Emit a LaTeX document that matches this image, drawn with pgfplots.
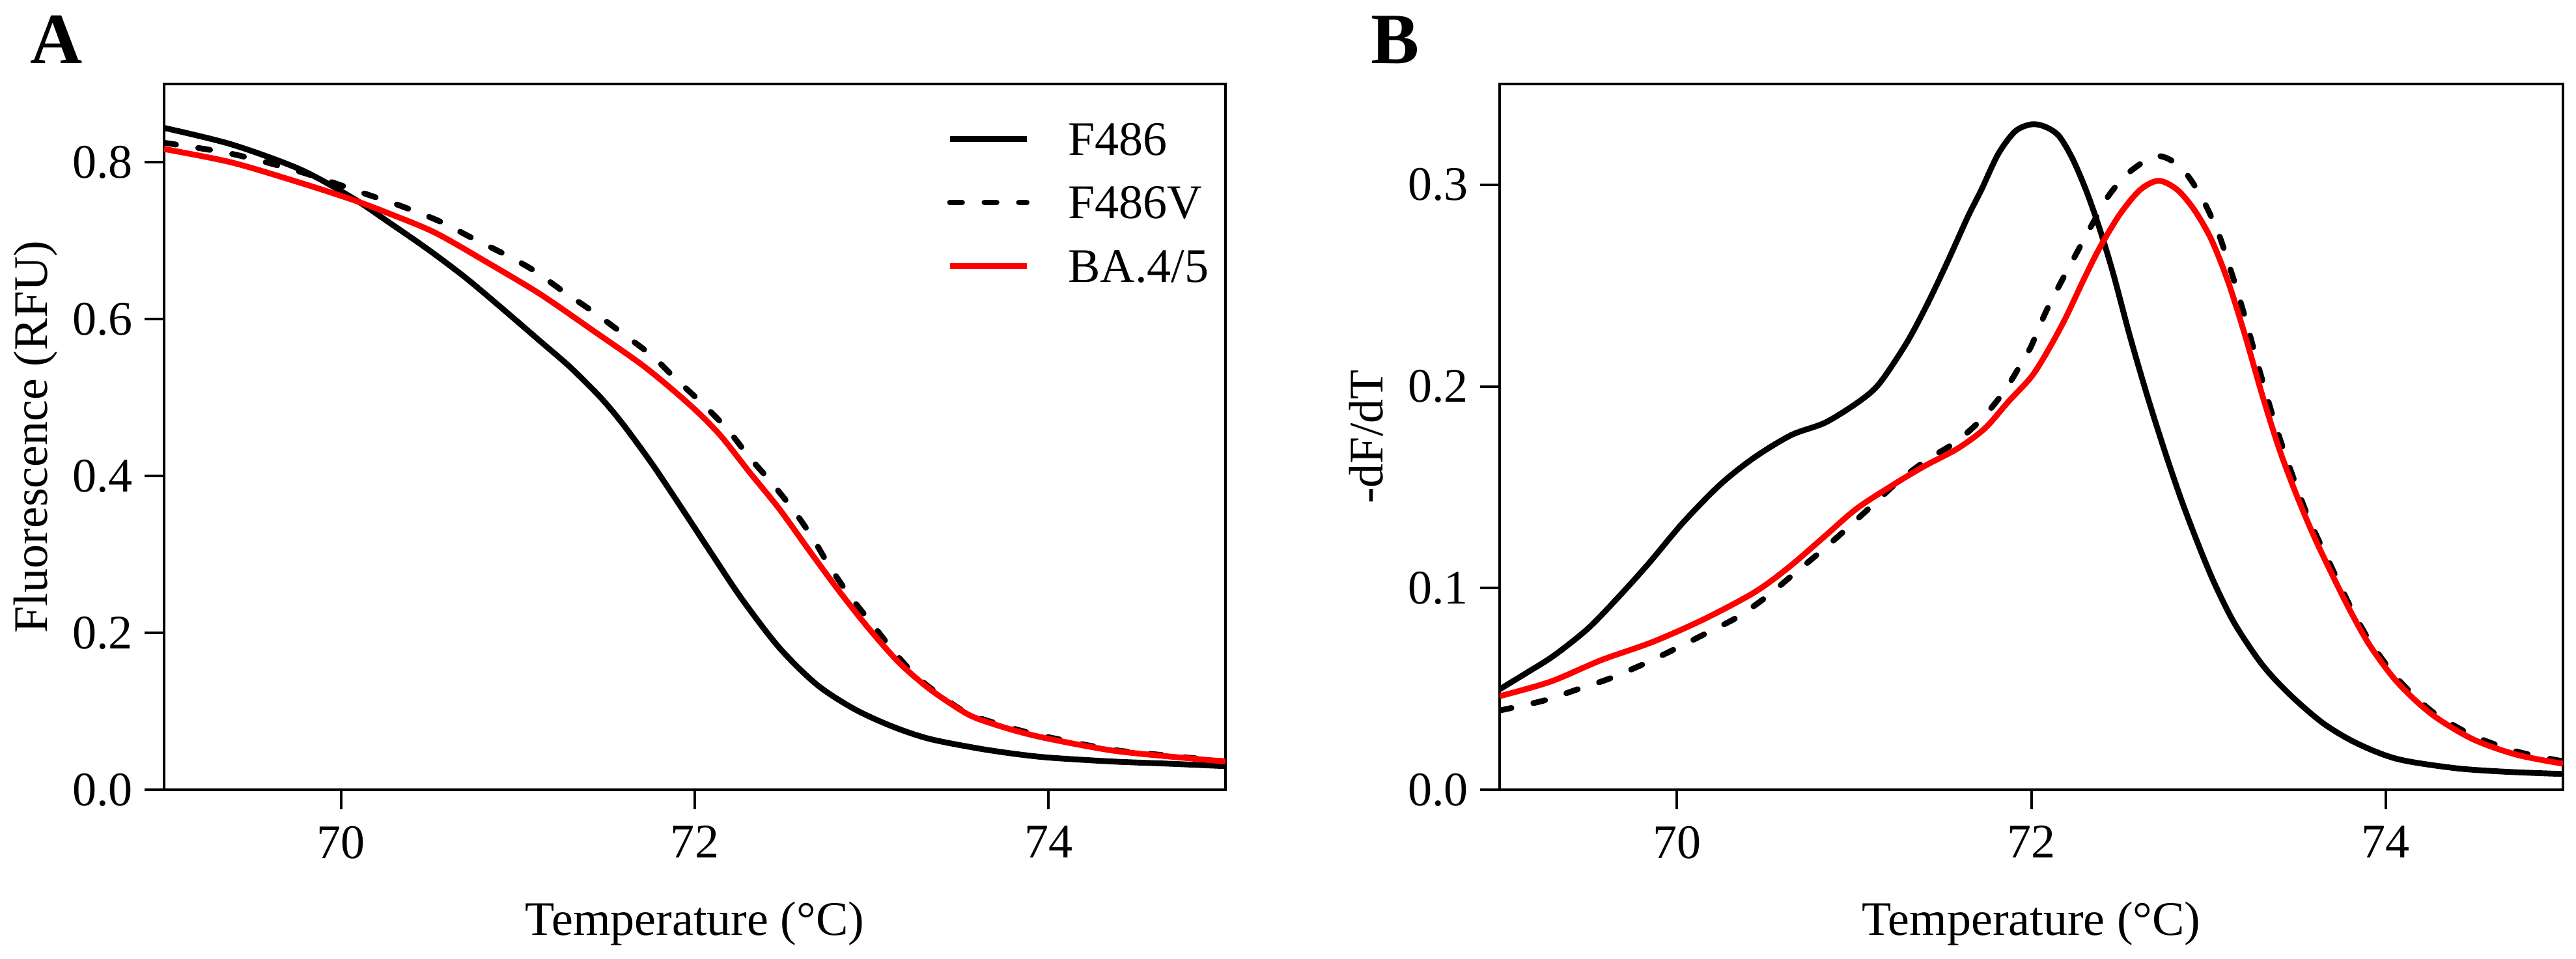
\documentclass[border=0pt]{standalone}
\usepackage{fontspec}
\setmainfont{Liberation Serif}
\usepackage{pgfplots}
\pgfplotsset{compat=1.18}

\pgfplotsset{
  melt/.style={
    scale only axis, width=220.05pt, height=146.34pt,
    anchor=south west,
    xmin=69, xmax=75, ymin=0,
    xtick={70,72,74},
    axis line style={line width=0.55pt},
    tick style={line width=0.55pt, black},
    major tick length=4pt,
    tick align=outside,
    xtick pos=bottom, ytick pos=left,
    /pgf/number format/assume math mode=true,
    ticklabel style={font=\normalsize},
    yticklabel style={xshift=1pt, /pgf/number format/fixed, /pgf/number format/fixed zerofill, /pgf/number format/precision=1},
    xlabel={Temperature (°C)},
    xlabel style={at={([yshift=-30.2pt]axis description cs:0.5,0)}, anchor=base, inner sep=0pt, font=\normalsize},
    ylabel style={at={([xshift=-24.2pt]axis description cs:0,0.5)}, anchor=base, inner sep=0pt, font=\normalsize},
  },
  f486/.style={black, line width=1.2pt, smooth},
  f486v/.style={black, line width=1.2pt, smooth, line cap=round, dash pattern=on 2.5pt off 4.65pt},
  ba45/.style={red, line width=1.2pt, smooth},
}

\begin{document}
\begin{tikzpicture}
\path[use as bounding box] (0,0) rectangle (534.06pt,198.72pt);

% A: melt curves
\begin{axis}[melt, at={(34.02pt,34.97pt)}, ymax=0.9,
    ytick={0,0.2,0.4,0.6,0.8},
    ylabel={Fluorescence (RFU)},
    legend cell align=left,
    legend image code/.code={\draw[#1] (0pt,0pt) -- (15.9pt,0pt); \path[draw=none, fill=none] (0pt,-3.35pt) (0pt,3.35pt);},
    legend style={at={(0.7368,0.9465)}, anchor=north west, draw=none, fill=none,
      inner sep=0pt, row sep=6.5pt, column sep=8pt,
      nodes={inner sep=0pt, text height=6.7pt, text depth=0pt, font=\normalsize}},
  ]
\addplot[f486] coordinates {
 (69.00,0.844) (69.38,0.823) (69.77,0.791) (70.07,0.754) (70.281,0.722)
 (70.492,0.689) (70.704,0.653) (70.915,0.613) (71.126,0.572) (71.295,0.539)
 (71.464,0.501) (71.591,0.467) (71.760,0.415) (71.929,0.358) (72.098,0.300)
 (72.267,0.243) (72.478,0.181) (72.690,0.134) (72.901,0.103) (73.113,0.081)
 (73.324,0.065) (73.594,0.053) (73.80,0.046) (74.00,0.041) (74.36,0.036)
 (74.70,0.033) (75.00,0.030)};
\addlegendentry{F486}
\addplot[f486v] coordinates {
 (69.00,0.825) (69.38,0.811) (69.77,0.788) (70.15,0.759) (70.344,0.744)
 (70.556,0.725) (70.746,0.703) (70.915,0.684) (71.084,0.663) (71.253,0.636)
 (71.422,0.610) (71.591,0.582) (71.760,0.553) (71.887,0.525) (72.035,0.494)
 (72.183,0.460) (72.309,0.424) (72.436,0.391) (72.563,0.355) (72.669,0.320)
 (72.764,0.284) (72.880,0.246) (73.007,0.210) (73.133,0.174) (73.260,0.143)
 (73.408,0.117) (73.556,0.096) (73.80,0.078) (74.00,0.067) (74.36,0.051)
 (74.70,0.043) (75.00,0.036)};
\addlegendentry{F486V}
\addplot[ba45] coordinates {
 (69.00,0.817) (69.38,0.800) (69.77,0.774) (70.07,0.752) (70.281,0.734)
 (70.535,0.710) (70.830,0.672) (71.126,0.632) (71.422,0.586) (71.718,0.539)
 (71.971,0.491) (72.140,0.453) (72.309,0.405) (72.478,0.358) (72.647,0.305)
 (72.817,0.253) (72.986,0.205) (73.155,0.162) (73.324,0.129) (73.493,0.103)
 (73.594,0.091) (73.80,0.076) (74.00,0.065) (74.36,0.050) (74.70,0.042)
 (75.00,0.036)};
\addlegendentry{BA.4/5}
\end{axis}

% B: derivative
\begin{axis}[melt, at={(310.9pt,34.97pt)}, width=220.46pt, ymax=0.35,
    ytick={0,0.1,0.2,0.3},
    ylabel={-dF/dT},
  ]
\addplot[f486] coordinates {
 (69.000,0.0498) (69.153,0.0580) (69.306,0.0665) (69.498,0.0799) (69.670,0.0955)
 (69.842,0.1123) (70.034,0.1324) (70.244,0.1513) (70.436,0.1647) (70.646,0.1759)
 (70.838,0.1821) (71.029,0.1926) (71.144,0.2016) (71.297,0.2217) (71.412,0.2406)
 (71.527,0.2618) (71.642,0.2842) (71.718,0.2975) (71.814,0.3154) (71.910,0.3266)
 (72.002,0.3300) (72.078,0.3288) (72.155,0.3243) (72.231,0.3132) (72.308,0.2975)
 (72.384,0.2786) (72.461,0.2563) (72.556,0.2250) (72.652,0.1960) (72.748,0.1692)
 (72.843,0.1446) (72.939,0.1223) (73.034,0.1022) (73.149,0.0821) (73.302,0.0621)
 (73.455,0.0475) (73.646,0.0330) (73.837,0.0230) (74.067,0.0152) (74.392,0.0107)
 (74.679,0.0089) (75.000,0.0078)};
\addplot[f486v] coordinates {
 (69.000,0.0393) (69.249,0.0442) (69.440,0.0498) (69.613,0.0549) (69.804,0.0620)
 (69.976,0.0692) (70.168,0.0777) (70.340,0.0855) (70.503,0.0955) (70.656,0.1067)
 (70.809,0.1179) (70.953,0.1290) (71.106,0.1413) (71.259,0.1536) (71.412,0.1636)
 (71.575,0.1725) (71.718,0.1837) (71.852,0.1982) (71.967,0.2150) (72.002,0.2205)
 (72.078,0.2362) (72.155,0.2496) (72.250,0.2652) (72.346,0.2808) (72.442,0.2953)
 (72.556,0.3065) (72.709,0.3143) (72.843,0.3087) (72.958,0.2942) (73.054,0.2763)
 (73.130,0.2563) (73.207,0.2339) (73.283,0.2094) (73.379,0.1804) (73.474,0.1558)
 (73.570,0.1335) (73.685,0.1120) (73.799,0.0910) (73.914,0.0730) (74.067,0.0550)
 (74.258,0.0390) (74.488,0.0270) (74.736,0.0190) (75.000,0.0141)};
\addplot[ba45] coordinates {
 (69.000,0.0464) (69.287,0.0536) (69.574,0.0643) (69.861,0.0732) (70.149,0.0844)
 (70.436,0.0978) (70.627,0.1100) (70.819,0.1245) (71.010,0.1391) (71.202,0.1502)
 (71.393,0.1603) (71.584,0.1692) (71.738,0.1792) (71.872,0.1926) (72.002,0.2050)
 (72.097,0.2183) (72.193,0.2339) (72.289,0.2518) (72.384,0.2685) (72.499,0.2853)
 (72.614,0.2975) (72.719,0.3020) (72.824,0.2975) (72.920,0.2875) (73.015,0.2730)
 (73.111,0.2518) (73.207,0.2250) (73.302,0.1960) (73.398,0.1692) (73.493,0.1469)
 (73.589,0.1268) (73.685,0.1089) (73.799,0.0888) (73.914,0.0710) (74.067,0.0531)
 (74.258,0.0375) (74.488,0.0252) (74.736,0.0174) (75.000,0.0129)};
\end{axis}

\node[anchor=base west, inner sep=0pt, font=\fontsize{15}{18}\selectfont\bfseries] at (6.08pt,185.6pt) {A};
\node[anchor=base west, inner sep=0pt, font=\fontsize{15}{18}\selectfont\bfseries] at (284.0pt,185.6pt) {B};
\end{tikzpicture}
\end{document}
